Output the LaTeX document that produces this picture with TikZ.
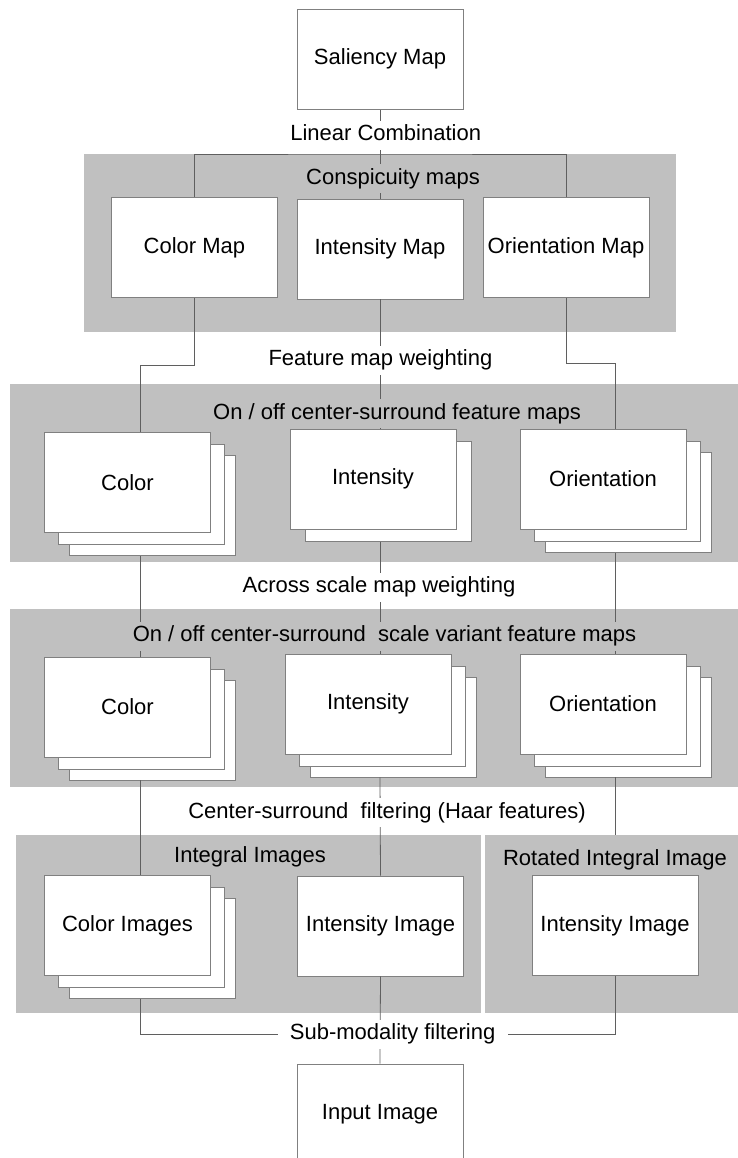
\documentclass[tikz,border=0pt]{standalone}
\usepackage{fontspec}
\setmainfont{Liberation Sans}
\usetikzlibrary{calc}
\definecolor{panelgrey}{RGB}{192,192,192}
\definecolor{edgegrey}{RGB}{128,128,128}
\definecolor{wiregrey}{RGB}{95,95,95}

\begin{document}
\begin{tikzpicture}[x=1pt,y=-1pt,
  panel/.style={fill=panelgrey, inner sep=0pt},
  mapbox/.style={draw=edgegrey, fill=white, line width=0.8pt, inner sep=0pt,
                 minimum width=166pt, minimum height=100pt,
                 font=\fontsize{22}{26}\selectfont},
  caption/.style={fill=#1, font=\fontsize{22}{26}\selectfont,
                  text height=16pt, text depth=5pt,
                  inner xsep=12pt, inner ysep=4pt},
  caption/.default=white,
  wire/.style={draw=wiregrey, line width=0.8pt}]
  \useasboundingbox (0,0) rectangle (738,1158);
  \clip (0,0) rectangle (738,1158);
  % grey panels
  \node[panel, minimum width=592pt, minimum height=178pt] (p1) at (379.75,243) {};
  \node[panel, minimum width=730pt, minimum height=178.5pt] (p2) at (375.4,472.75) {};
  \node[panel, minimum width=730pt, minimum height=178pt] (p3) at (375.4,698) {};
  \node[panel, minimum width=465.5pt, minimum height=177.7pt] (p4) at (248.25,923.85) {};
  \node[panel, minimum width=256pt, minimum height=177.7pt] (p5) at (612.7,923.85) {};
  % top
  \node[mapbox] (sal) at (380,59.3) {Saliency Map};
  \node[mapbox] (cmap) at (194.4,247.5) {Color Map};
  \node[mapbox] (imap) at (380,249) {Intensity Map};
  \node[mapbox] (omap) at (566,247.5) {Orientation Map};
  % center-surround feature maps
  \node[mapbox] (c2c) at (152.5,505.7) {};
  \node[mapbox] (c2b) at (141.5,494.7) {};
  \node[mapbox] (c2) at (127.5,482.7) {Color};
  \node[mapbox] (i2b) at (388,491.5) {};
  \node[mapbox] (i2) at (373,479) {Intensity};
  \node[mapbox] (o2c) at (628,502.5) {};
  \node[mapbox] (o2b) at (617.5,491.5) {};
  \node[mapbox] (o2) at (603,479) {Orientation};
  % scale variant feature maps
  \node[mapbox] (c3c) at (152.5,730) {};
  \node[mapbox] (c3b) at (141.5,719) {};
  \node[mapbox] (c3) at (127.5,707) {Color};
  \node[mapbox] (i3c) at (393,727) {};
  \node[mapbox] (i3b) at (382.5,716) {};
  \node[mapbox] (i3) at (368,704) {Intensity};
  \node[mapbox] (o3c) at (628,727) {};
  \node[mapbox] (o3b) at (617.5,716) {};
  \node[mapbox] (o3) at (603,704) {Orientation};
  % integral images
  \node[mapbox] (c4c) at (152.5,948.5) {};
  \node[mapbox] (c4b) at (141.5,937.5) {};
  \node[mapbox] (c4) at (127.5,925.5) {Color Images};
  \node[mapbox] (ii) at (380.5,926) {Intensity Image};
  \node[mapbox] (rii) at (615,925.5) {Intensity Image};
  \node[mapbox] (inp) at (380,1114) {Input Image};
  % trunks
  \coordinate (jtop) at (380,154);
  \coordinate (fwL) at (140,365);
  \coordinate (fwR) at (615,363);
  \draw[wire] (sal.south) -- (imap.north);
  \draw[wire] (cmap.north) |- (jtop) -| (omap.north);
  \draw[wire] (cmap.south) |- (fwL) -- (fwL |- c2.north);
  \draw[wire] (omap.south) |- (fwR) -- (fwR |- o2.north);
  \draw[wire] (imap.south) -- (imap.south |- i2.north);
  \draw[wire] (fwL |- c2c.south) -- (fwL |- c3.north);
  \draw[wire] (imap.south |- i2b.south) -- (imap.south |- i3.north);
  \draw[wire] (fwR |- o2c.south) -- (fwR |- o3.north);
  \draw[wire] (fwL |- c3c.south) -- (fwL |- c4.north);
  \draw[wire] (imap.south |- i3c.south) -- (ii.north);
  \draw[wire] (fwR |- o3c.south) -- (fwR |- p5.north);
  \draw[wire] (ii.south) -- (inp.north);
  % captions
  \node[caption] (lc) at (385.7,135.2) {Linear Combination};
  \node[caption=panelgrey] (consp) at (393,178.8) {Conspicuity maps};
  \node[caption] (fmw) at (380.4,360.2) {Feature map weighting};
  \node[caption=panelgrey] (oo1) at (397,413.5) {On / off center-surround feature maps};
  \node[caption] (asw) at (379,587) {Across scale map weighting};
  \node[caption=panelgrey] (oo2) at (384.5,636) {On / off center-surround\ \ scale variant feature maps};
  \node[caption] (csf) at (387,812.8) {Center-surround\ \ filtering (Haar features)};
  \node[caption=panelgrey] (intimg) at (250,856.8) {Integral Images};
  \node[caption=panelgrey] (rotimg) at (615,859.5) {Rotated Integral Image};
  \node[caption] (sub) at (392.6,1034) {Sub-modality filtering};
  \draw[wire] (fwL |- c4c.south) |- (sub.west);
  \draw[wire] (rii.south) |- (sub.east);
\end{tikzpicture}
\end{document}
